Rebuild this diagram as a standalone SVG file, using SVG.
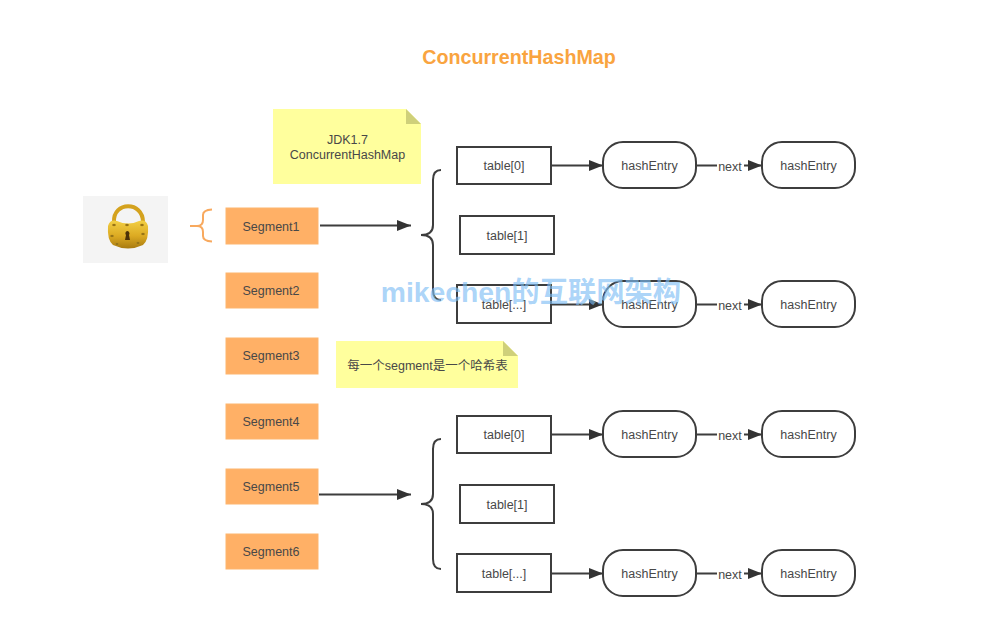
<svg xmlns="http://www.w3.org/2000/svg" width="986" height="632" viewBox="0 0 986 632">
<defs>
<marker id="a" markerUnits="userSpaceOnUse" markerWidth="15" markerHeight="12" refX="14" refY="5.5" orient="auto"><path d="M0 0L14 5.5L0 11Z" fill="#333"/></marker>
<linearGradient id="g" x1="0" y1="0" x2="0" y2="1"><stop offset="0" stop-color="#f2cf45"/><stop offset=".55" stop-color="#dcaa22"/><stop offset="1" stop-color="#a87a10"/></linearGradient>
<radialGradient id="sp"><stop offset="0" stop-color="#7a5a10"/><stop offset="1" stop-color="#b8901e"/></radialGradient>
</defs>
<style>
text{font-family:"Liberation Sans","Noto Sans CJK SC",sans-serif;font-size:12.5px;fill:#484848;text-anchor:middle}
.s rect{fill:#ffb066;stroke:#fdb56f;stroke-width:1}
.t rect{fill:#fff;stroke:#3d3d3d;stroke-width:2}
.h rect{fill:#fff;stroke:#3d3d3d;stroke-width:2}
.c path{fill:none;stroke:#3d3d3d;stroke-width:2}
.n{fill:#ffff9d}
.f{fill:#cfd07a}
.d{fill:url(#sp)}
</style>
<rect width="986" height="632" fill="#fff"/>
<text x="519" y="64" style="font-size:19.700px;font-weight:bold;fill:#f9a43f">ConcurrentHashMap</text>

<g id="note1"><path class="n" d="M273 109H406L421 124V184H273Z"/><path class="f" d="M406 109L421 124H406Z"/><text x="347.500" y="144">JDK1.7</text><text x="347.500" y="159">ConcurrentHashMap</text></g>
<g id="note2"><path class="n" d="M336 341H503L518 356V388H336Z"/><path class="f" d="M503 341L518 356H503Z"/><text x="427.500" y="370">每一个segment是一个哈希表</text></g>

<g id="lock">
<rect x="83" y="196" width="85" height="67" fill="#f4f4f4"/>
<path d="M114 222C113 201 143 201 143 222" fill="none" stroke="#d4a21e" stroke-width="4"/>
<path d="M108 226Q110 219 117 221Q128 226 139 221Q146 219 148 226Q149 240 143 245Q128 252 113 245Q107 240 108 226Z" fill="url(#g)"/>
<ellipse class="d" cx="114" cy="225" rx="2" ry="1.200"/><ellipse class="d" cx="127" cy="225" rx="2" ry="1.200"/><ellipse class="d" cx="142" cy="225" rx="2" ry="1.200"/><ellipse class="d" cx="112" cy="236" rx="2" ry="1.200"/><ellipse class="d" cx="143" cy="234" rx="2" ry="1.200"/><ellipse class="d" cx="117" cy="244" rx="2" ry="1.200"/><ellipse class="d" cx="138" cy="243" rx="2" ry="1.200"/>
<path d="M127 231a2.500 2.500 0 0 1 2 4l1 5h-5l1-5a2.500 2.500 0 0 1 1-4Z" fill="#4d3208"/>
</g>
<g id="lockBrace"><path d="M190 226H197Q203 226 203 220V215Q203 210 212 209.500M197 226Q203 226 203 232V236Q203 241 212 241.500" fill="none" stroke="#f8a95e" stroke-width="2"/></g>

<g id="seg1" class="s"><rect x="226" y="208" width="92" height="36"/><text x="271" y="231">Segment1</text></g>
<g id="seg2" class="s"><rect x="226" y="273" width="92" height="35"/><text x="271" y="295">Segment2</text></g>
<g id="seg3" class="s"><rect x="226" y="338" width="92" height="36"/><text x="271" y="360">Segment3</text></g>
<g id="seg4" class="s"><rect x="226" y="404" width="92" height="35"/><text x="271" y="426">Segment4</text></g>
<g id="seg5" class="s"><rect x="226" y="469" width="92" height="35"/><text x="271" y="491">Segment5</text></g>
<g id="seg6" class="s"><rect x="226" y="534" width="92" height="35"/><text x="271" y="556">Segment6</text></g>

<g id="t0a" class="t"><rect x="457" y="147" width="94" height="37"/><text x="504" y="170">table[0]</text></g>
<g id="t1a" class="t"><rect x="460" y="216" width="94" height="38"/><text x="507" y="240">table[1]</text></g>
<g id="t2a" class="t"><rect x="457" y="285" width="94" height="38"/><text x="504" y="309">table[...]</text></g>
<g id="t0b" class="t"><rect x="457" y="416" width="94" height="37"/><text x="504" y="439">table[0]</text></g>
<g id="t1b" class="t"><rect x="460" y="485" width="94" height="38"/><text x="507" y="509">table[1]</text></g>
<g id="t2b" class="t"><rect x="457" y="554" width="94" height="38"/><text x="504" y="578">table[...]</text></g>

<g id="h1" class="h"><rect x="603" y="142" width="93" height="46" rx="20"/><text x="649.500" y="170">hashEntry</text></g>
<g id="h2" class="h"><rect x="762" y="142" width="93" height="46" rx="20"/><text x="808.500" y="170">hashEntry</text></g>
<g id="h3" class="h"><rect x="603" y="281" width="93" height="46" rx="20"/><text x="649.500" y="309">hashEntry</text></g>
<g id="h4" class="h"><rect x="762" y="281" width="93" height="46" rx="20"/><text x="808.500" y="309">hashEntry</text></g>
<g id="h5" class="h"><rect x="603" y="411" width="93" height="46" rx="20"/><text x="649.500" y="439">hashEntry</text></g>
<g id="h6" class="h"><rect x="762" y="411" width="93" height="46" rx="20"/><text x="808.500" y="439">hashEntry</text></g>
<g id="h7" class="h"><rect x="603" y="550" width="93" height="46" rx="20"/><text x="649.500" y="578">hashEntry</text></g>
<g id="h8" class="h"><rect x="762" y="550" width="93" height="46" rx="20"/><text x="808.500" y="578">hashEntry</text></g>

<g id="connectors" class="c">
<path d="M320 225.500H411" marker-end="url(#a)"/>
<path d="M319 494.500H411" marker-end="url(#a)"/>
<path d="M441 170Q433 170 433 180V225Q433 235 421 235Q433 235 433 245V290Q433 300 441 300"/>
<path d="M441 439Q433 439 433 449V494Q433 504 421 504Q433 504 433 514V559Q433 569 441 569"/>
<path d="M551 165.500H603" marker-end="url(#a)"/>
<path d="M551 304.500H603" marker-end="url(#a)"/>
<path d="M551 434.500H603" marker-end="url(#a)"/>
<path d="M551 573.500H603" marker-end="url(#a)"/>
<path d="M696 165.500H762" marker-end="url(#a)"/>
<path d="M696 304.500H762" marker-end="url(#a)"/>
<path d="M696 434.500H762" marker-end="url(#a)"/>
<path d="M696 573.500H762" marker-end="url(#a)"/>
</g>
<g id="nextLabels">
<rect x="717" y="160" width="27" height="14" fill="#fff"/><text x="730" y="171">next</text>
<rect x="717" y="299" width="27" height="14" fill="#fff"/><text x="730" y="310">next</text>
<rect x="717" y="429" width="27" height="14" fill="#fff"/><text x="730" y="440">next</text>
<rect x="717" y="568" width="27" height="14" fill="#fff"/><text x="730" y="579">next</text>
</g>
<text x="531" y="302" style="font-size:28.300px;font-weight:bold;fill:#7dbdf5;fill-opacity:.65">mikechen的互联网架构</text>
</svg>
